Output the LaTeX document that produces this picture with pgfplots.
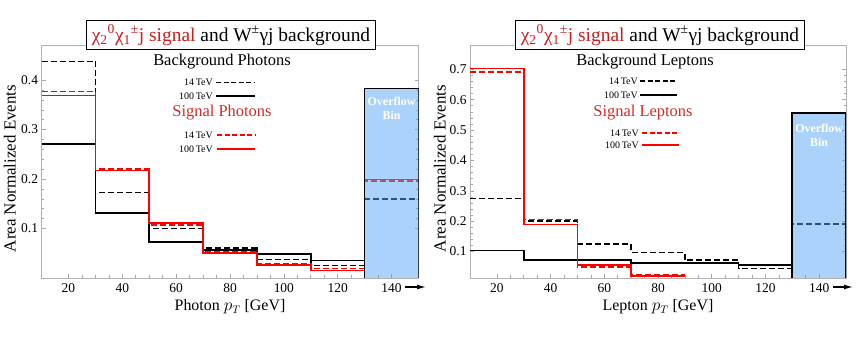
\documentclass[border=0pt]{standalone}
\usepackage{pgfplots}
\pgfplotsset{compat=1.18}
\usepackage{fontspec}
\setmainfont{Liberation Serif}
\usetikzlibrary{arrows.meta}
\definecolor{sigred}{RGB}{255,0,0}
\definecolor{titlered}{RGB}{200,30,30}
\definecolor{legred}{RGB}{205,45,40}
\definecolor{ovblue}{RGB}{85,165,245}
\pgfplotsset{
  myax/.style={
    scale only axis, anchor=south west,
    axis line style={gray!60, line width=0.8pt},
    tick style={gray!70, line width=0.6pt},
    tick align=inside,
    xtick pos=bottom,
    xmin=10, xmax=150,
    xtick={20,40,60,80,100,120,140},
    minor x tick num=3,
    minor y tick num=4,
    major tick length=4bp, minor tick length=2.5bp,
    ticklabel style={font=\fontsize{13.5}{15}\selectfont},
    xticklabel style={yshift=-2.5bp},
    /pgf/number format/assume math mode=true,
    yticklabel style={/pgf/number format/fixed, /pgf/number format/precision=1},
    xlabel style={font=\fontsize{16}{18}\selectfont, at={(axis description cs:0.5,-0.125)}, anchor=center},
    ylabel style={font=\fontsize{17}{19}\selectfont},
    clip=true,
  },
  bgd/.style={black, line width=1.6pt, dash pattern=on 6bp off 3bp, const plot},
  bgs/.style={black, line width=1.6pt, const plot},
  sgd/.style={sigred, line width=1.6pt, dash pattern=on 6bp off 3bp, const plot},
  sgs/.style={sigred, line width=1.6pt, const plot},
}
\begin{document}
\begin{tikzpicture}
\useasboundingbox (0,0) rectangle (865bp,340bp);
% ---------------- Left panel: photons
\begin{axis}[myax, at={(41.5bp,62bp)}, width=377bp, height=233bp,
  ymin=0, ymax=0.471, ytick={0.1,0.2,0.3,0.4},
  xlabel={Photon $p_T$ [GeV]},
  ylabel={Area Normalized Events},
  ylabel style={at={(axis description cs:-0.084,0.47)}, anchor=center}]
\addplot[bgd] coordinates {(10,0.438)(30,0.173)(50,0.100)(70,0.061)(90,0.037)(110,0.025)(130,0.160)(150,0.160)};
\addplot[bgs] coordinates {(10,0.271)(30,0.131)(50,0.073)(70,0.056)(90,0.049)(110,0.035)(130,0.383)(150,0.383)};
\addplot[sgd] coordinates {(10,0.377)(30,0.220)(50,0.107)(70,0.053)(90,0.029)(110,0.019)(130,0.196)(150,0.196)};
\addplot[sgs] coordinates {(10,0.369)(30,0.217)(50,0.111)(70,0.050)(90,0.026)(110,0.015)(130,0.199)(150,0.199)};
\addplot[draw=none, fill=ovblue, fill opacity=0.5] coordinates {(130,-0.01)(130,0.383)(150,0.383)(150,-0.01)} -- cycle;
\addplot[black, line width=1.6pt] coordinates {(130,-0.01)(130,0.383)(150,0.383)(150,-0.01)};
\node[white, font=\bfseries\fontsize{12}{14}\selectfont, align=center] at (axis cs:140,0.343) {Overflow\\Bin};
\end{axis}
% ---------------- Right panel: leptons
\begin{axis}[myax, at={(470bp,62bp)}, width=376bp, height=233bp,
  ymin=0.0131, ymax=0.78, ytick={0.1,0.2,0.3,0.4,0.5,0.6,0.7},
  xlabel={Lepton $p_T$ [GeV]},
  ylabel={Area Normalized Events},
  ylabel style={at={(axis description cs:-0.08,0.47)}, anchor=center}]
\addplot[bgd] coordinates {(10,0.275)(30,0.200)(50,0.125)(70,0.097)(90,0.072)(110,0.045)(130,0.190)(150,0.190)};
\addplot[bgs] coordinates {(10,0.103)(30,0.073)(50,0.073)(70,0.063)(90,0.063)(110,0.056)(130,0.556)(150,0.556)};
\addplot[sgd] coordinates {(10,0.692)(30,0.205)(50,0.049)(70,0.025)(90,0.025)};
\addplot[sgs] coordinates {(10,0.703)(30,0.189)(50,0.055)(70,0.020)(90,0.020)};
\addplot[draw=none, fill=ovblue, fill opacity=0.5] coordinates {(130,0)(130,0.556)(150,0.556)(150,0)} -- cycle;
\addplot[black, line width=1.6pt] coordinates {(130,0)(130,0.556)(150,0.556)(150,0)};
\node[white, font=\bfseries\fontsize{12}{14}\selectfont, align=center] at (axis cs:140,0.483) {Overflow\\Bin};
\end{axis}
% ---------------- titles
\foreach \cx in {231,660}{
\node[draw=black, line width=1.2pt, fill=white, inner xsep=5bp, inner ysep=4bp,
  font=\fontsize{19.5}{22}\selectfont] at (\cx bp,305bp)
  {\textcolor{titlered}{χ\textsubscript{2}\textsuperscript{0}χ\textsubscript{1}\textsuperscript{±}j signal} and W\textsuperscript{±}γj background};
}
% ---------------- legends
\node[font=\fontsize{16.5}{18}\selectfont] at (222bp,278bp) {Background Photons};
\node[font=\fontsize{16.5}{18}\selectfont, text=legred] at (222bp,227bp) {Signal Photons};
\node[font=\fontsize{16.5}{18}\selectfont] at (645bp,278bp) {Background Leptons};
\node[font=\fontsize{16.5}{18}\selectfont, text=legred] at (643bp,227bp) {Signal Leptons};
\begin{scope}[every node/.style={font=\fontsize{10}{12}\selectfont, anchor=east, inner sep=1bp}]
\node at (214bp,257.5bp) {14\,TeV};
\node at (214bp,244bp) {100\,TeV};
\node at (214bp,205bp) {14\,TeV};
\node at (214bp,191bp) {100\,TeV};
\node at (639bp,259bp) {14\,TeV};
\node at (639bp,245bp) {100\,TeV};
\node at (640bp,207bp) {14\,TeV};
\node at (640bp,195bp) {100\,TeV};
\end{scope}
\draw[black, line width=1.6pt, dash pattern=on 5bp off 2.5bp] (216bp,257.5bp) -- (255bp,257.5bp);
\draw[black, line width=1.8pt] (216bp,244bp) -- (255bp,244bp);
\draw[sigred, line width=1.6pt, dash pattern=on 5bp off 2.5bp] (217bp,205bp) -- (255bp,205bp);
\draw[sigred, line width=1.8pt] (217bp,191bp) -- (255bp,191bp);
\draw[black, line width=1.6pt, dash pattern=on 5bp off 2.5bp] (640bp,259bp) -- (675bp,259bp);
\draw[black, line width=1.8pt] (640bp,245bp) -- (677bp,245bp);
\draw[sigred, line width=1.6pt, dash pattern=on 5bp off 2.5bp] (642bp,207bp) -- (679bp,207bp);
\draw[sigred, line width=1.8pt] (642bp,195bp) -- (679bp,195bp);
% ---------------- arrows after 140
\draw[line width=1.2pt, -{Latex[length=9bp,width=5bp]}] (405bp,53bp) -- (426bp,53bp);
\draw[line width=1.2pt, -{Latex[length=9bp,width=5bp]}] (833bp,53bp) -- (853bp,53bp);
\end{tikzpicture}
\end{document}
